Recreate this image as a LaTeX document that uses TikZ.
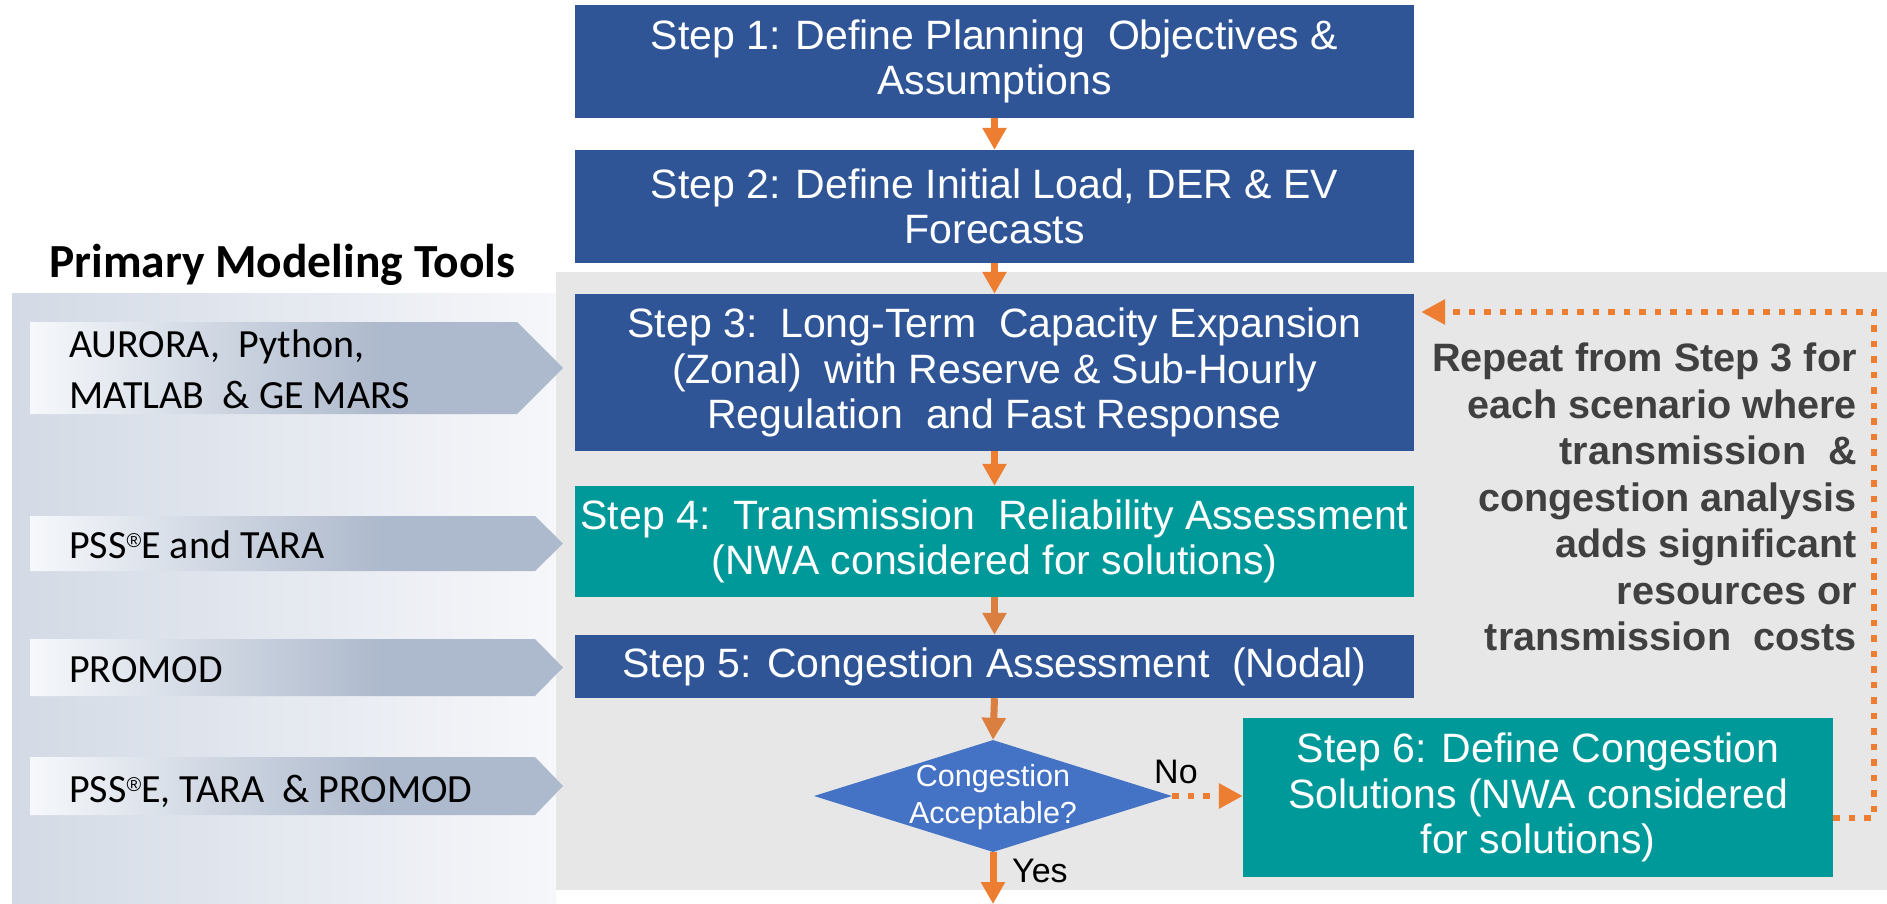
\documentclass[tikz,border=0pt]{standalone}
\usepackage{fontspec}
\setmainfont{Liberation Sans}
\newfontfamily\calibrifont{Carlito}
\usetikzlibrary{arrows.meta,shapes.geometric}
\definecolor{stepblue}{HTML}{2F5597}
\definecolor{stepteal}{HTML}{009999}
\definecolor{decblue}{HTML}{4472C4}
\definecolor{arrorange}{HTML}{ED7D31}
\definecolor{arrorangeB}{HTML}{DA7F40}
\definecolor{panelgray}{HTML}{E7E7E7}
\definecolor{panelL}{HTML}{D3DAE5}
\definecolor{panelR}{HTML}{F6F7FA}
\definecolor{chevL}{HTML}{F6F8FB}
\definecolor{chevR}{HTML}{ADB9CC}
\definecolor{repgray}{HTML}{404040}
\pgfdeclarehorizontalshading{chevshade}{100bp}{color(0bp)=(chevL); color(25bp)=(chevL); color(58bp)=(chevR); color(100bp)=(chevR)}
\newcommand{\regmark}{\raisebox{11pt}{\normalfont\fontsize{20}{20}\selectfont ®}}
\begin{document}
\begin{tikzpicture}[x=1pt,y=-1pt,
  stepbox/.style={rectangle, fill=stepblue, text=white, inner sep=0pt, minimum width=839pt, align=center, font=\fontsize{41}{45.5}\selectfont},
  tealbox/.style={stepbox, fill=stepteal},
  tooltext/.style={inner sep=0pt, text=black, align=left, font=\calibrifont\fontsize{40}{51}\selectfont},
  lbl/.style={inner sep=0pt, text=black, font=\fontsize{34}{40}\selectfont},
  solidarr/.style={draw=arrorange, line width=7pt, -{Triangle[length=22pt,width=23pt]}},
  dotarr/.style={draw=arrorange, line width=6pt, dash pattern=on 6.5pt off 9pt, -{Triangle[length=24pt,width=24pt]}},
  chev/.style={shading=chevshade}
]
% canvas
\path[use as bounding box, fill=white] (0,0) rectangle (1887,904);
% background panels
\fill[panelgray] (556,272) rectangle (1887,890);
\shade[left color=panelL, right color=panelR] (12,293) rectangle (556,904);

% title
\node[inner sep=0pt, anchor=base west, font=\calibrifont\bfseries\fontsize{47.5}{52}\selectfont] (title) at (49,277) {Primary Modeling Tools};

% tool chevrons
\path[chev] (30,322) -- (517,322) -- (563,368) -- (517,414) -- (30,414) -- cycle;
\path[chev] (30,516) -- (535,516) -- (563,543.5) -- (535,571) -- (30,571) -- cycle;
\path[chev] (30,639) -- (535,639) -- (563,667.5) -- (535,696) -- (30,696) -- cycle;
\path[chev] (30,757) -- (535,757) -- (563,786) -- (535,815) -- (30,815) -- cycle;
\node[tooltext, anchor=west] (t1) at (69,369) {AURORA,\ \ Python,\\MATLAB \ \& GE MARS};
\node[tooltext, anchor=base west] (t2) at (69,558) {PSS\regmark E and TARA};
\node[tooltext, anchor=base west] (t3) at (69,682) {PROMOD};
\node[tooltext, anchor=base west] (t4) at (69,802) {PSS\regmark E, TARA \ \& PROMOD};

% steps
\node[stepbox, minimum height=113pt] (s1) at (994.5,61.5) {Step 1: Define Planning\ \ Objectives \&\\Assumptions};
\node[stepbox, minimum height=113pt] (s2) at (994.5,206.5) {Step 2: Define Initial Load, DER \& EV\\Forecasts};
\node[stepbox, minimum height=157pt] (s3) at (994.5,372.5) {Step 3:\ \ Long-Term\ \ Capacity Expansion\\(Zonal)\ \ with Reserve \& Sub-Hourly\\Regulation\ \ and Fast Response};
\node[tealbox, minimum height=111pt] (s4) at (994.5,541.5) {Step 4:\ \ Transmission\ \ Reliability Assessment\\(NWA considered for solutions)};
\node[stepbox, minimum height=63pt] (s5) at (994.5,666.5) {Step 5: Congestion Assessment\ \ (Nodal)};
\node[diamond, fill=decblue, inner sep=0pt, minimum width=358pt, minimum height=112pt] (dec) at (993,796) {};
\node[inner sep=0pt, text=white, align=center, font=\fontsize{30.5}{37}\selectfont] (dect) at (993,797) {Congestion\\Acceptable?};
\node[tealbox, minimum width=590pt, minimum height=159pt] (s6) at (1538,797.5) {Step 6: Define Congestion\\Solutions (NWA considered\\for solutions)};

% repeat note
\node[inner sep=0pt, anchor=east, align=right, text=repgray, font=\bfseries\fontsize{39.6}{46.5}\selectfont] (rep) at (1857,497) {Repeat from Step 3 for\\each scenario where\\transmission \ \&\\congestion analysis\\adds significant\\resources or\\transmission\ \ costs};

% labels
\node[lbl, anchor=base west] (no) at (1154,783) {No};
\node[lbl, anchor=base west] (yes) at (1012,882) {Yes};

% connectors
\draw[solidarr] (s1.south) -- (s2.north);
\draw[solidarr] (s2.south) -- (s3.north);
\draw[solidarr] (s3.south) -- (s4.north);
\draw[solidarr, draw=arrorangeB] (s4.south) -- (s5.north);
\draw[solidarr, draw=arrorangeB] (s5.south) -- (dec.north);
\coordinate (yesend) at (993,904);
\draw[solidarr] (dec.south) -- (yesend);
\draw[dotarr] (dec.east) -- (dec.east -| s6.west);
\coordinate (lp1) at (1874,818);
\coordinate (lp2) at (1874,312);
\draw[dotarr, shorten >=7pt] (s6.east |- lp1) -- (lp1) -- (lp2) -- (s3.east |- lp2);
\end{tikzpicture}
\end{document}
